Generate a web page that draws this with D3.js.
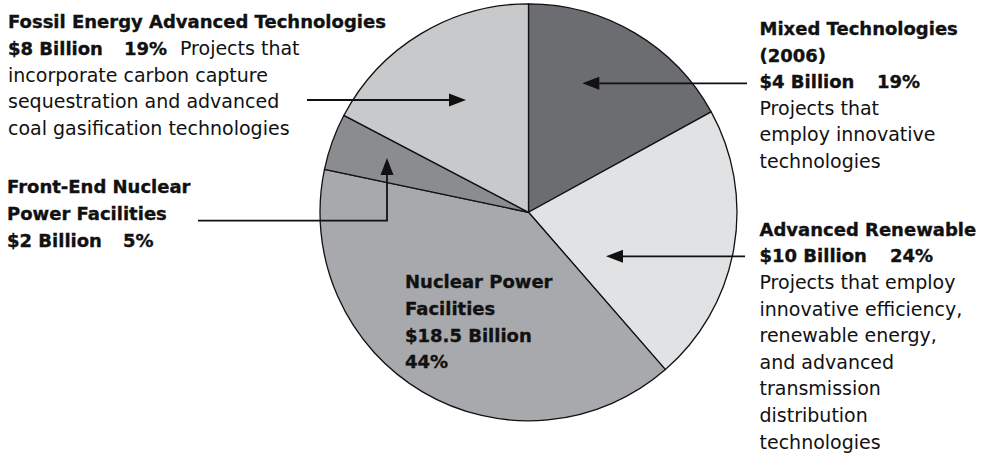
<!DOCTYPE html>
<html><head><meta charset="utf-8">
<script src="https://cdn.jsdelivr.net/npm/d3@7"></script>
<style>
html,body{margin:0;padding:0;background:#fff;}
svg{display:block;}
text{font-family:"DejaVu Sans",sans-serif;fill:#111;}
.b{font-weight:bold;font-size:18px;stroke:#111;stroke-width:0.35px;}
.r{font-weight:normal;font-size:19px;}
</style></head>
<body>
<svg id="chart" width="986" height="457"></svg>
<script>
// ---- data ----
const categories = ["Mixed Technologies (2006)", "Advanced Renewable", "Nuclear Power Facilities", "Front-End Nuclear Power Facilities", "Fossil Energy Advanced Technologies"];
const sliceShare = [17.0, 21.6, 39.7, 4.4, 17.3];          // drawn slice sizes (%)
const billions = ["$4 Billion", "$10 Billion", "$18.5 Billion", "$2 Billion", "$8 Billion"];
const pctLabels = ["19%", "24%", "44%", "5%", "19%"];
const sliceColors = ["#6c6d71", "#e1e2e4", "#a8a9ac", "#8b8c8f", "#c8c9cb"];

// ---- layout ----
const svg = d3.select("#chart");
const cx = 528.5, cy = 212.3, R = 208.5;
const LH = 26.6;

const pie = d3.pie().sort(null).value(d => d)(sliceShare);
const arc = d3.arc().innerRadius(0).outerRadius(R);

const g = svg.append("g").attr("transform", `translate(${cx},${cy})`);
g.selectAll("path").data(pie).join("path")
  .attr("d", arc)
  .attr("fill", (d, i) => sliceColors[i])
  .attr("stroke", "#111")
  .attr("stroke-width", 1.3)
  .attr("stroke-linejoin", "round");

// ---- arrows ----
function arrow(points) {
  const tip = points[points.length - 1], prev = points[points.length - 2];
  const ang = Math.atan2(tip[1] - prev[1], tip[0] - prev[0]);
  const L = 17, W = 6.5;
  const base = [tip[0] - L * Math.cos(ang), tip[1] - L * Math.sin(ang)];
  const pts = points.slice(0, -1).concat([base]);
  svg.append("path").attr("d", d3.line()(pts))
    .attr("fill", "none").attr("stroke", "#111").attr("stroke-width", 1.8);
  const p1 = [base[0] + W * Math.sin(ang), base[1] - W * Math.cos(ang)];
  const p2 = [base[0] - W * Math.sin(ang), base[1] + W * Math.cos(ang)];
  svg.append("path").attr("d", d3.line()([tip, p1, p2]) + "Z").attr("fill", "#111");
}
arrow([[307, 100], [cx - 62.5, 100]]);                       // fossil
arrow([[198, 220.7], [cx - 141.5, 220.7], [cx - 141.5, 158]]); // front-end nuclear
arrow([[747, 83.3], [cx + 53.8, 83.3]]);                     // mixed
arrow([[745, 256.3], [cx + 77.5, 256.3]]);                   // renewable

// ---- labels ----
function line(x, y, parts) {
  const t = svg.append("text").attr("x", x).attr("y", y);
  parts.forEach(p => {
    const s = t.append("tspan").attr("class", p.c).text(p.t);
    if (p.x !== undefined) s.attr("x", p.x);
  });
}
// Fossil
let y0 = 28.3, xL = 8;
line(xL, y0, [{c: "b", t: categories[4]}]);
line(xL, y0 + LH, [{c: "b", t: billions[4]}, {c: "b", t: pctLabels[4], x: 124}, {c: "r", t: "Projects that", x: 180}]);
["incorporate carbon capture", "sequestration and advanced", "coal gasification technologies"]
  .forEach((s, i) => line(xL, y0 + LH * (i + 2), [{c: "r", t: s}]));

// Front-End Nuclear
y0 = 193.3; xL = 7;
line(xL, y0, [{c: "b", t: "Front-End Nuclear"}]);
line(xL, y0 + LH, [{c: "b", t: "Power Facilities"}]);
line(xL, y0 + LH * 2, [{c: "b", t: billions[3]}, {c: "b", t: pctLabels[3], x: 123}]);

// Mixed
y0 = 35; xL = 759.5;
line(xL, y0, [{c: "b", t: "Mixed Technologies"}]);
line(xL, y0 + LH, [{c: "b", t: "(2006)"}]);
line(xL, y0 + LH * 2, [{c: "b", t: billions[0]}, {c: "b", t: pctLabels[0], x: 877}]);
["Projects that", "employ innovative", "technologies"]
  .forEach((s, i) => line(xL, y0 + LH * (i + 3), [{c: "r", t: s}]));

// Renewable
y0 = 235.7;
line(xL, y0, [{c: "b", t: categories[1]}]);
line(xL, y0 + LH, [{c: "b", t: billions[1]}, {c: "b", t: pctLabels[1], x: 890}]);
["Projects that employ", "innovative efficiency,", "renewable energy,", "and advanced", "transmission", "distribution", "technologies"]
  .forEach((s, i) => line(xL, y0 + LH * (i + 2), [{c: "r", t: s}]));

// Nuclear (inside pie)
y0 = 288.3; xL = 405;
["Nuclear Power", "Facilities", billions[2], pctLabels[2]]
  .forEach((s, i) => line(xL, y0 + LH * i, [{c: "b", t: s}]));
</script>
</body></html>
